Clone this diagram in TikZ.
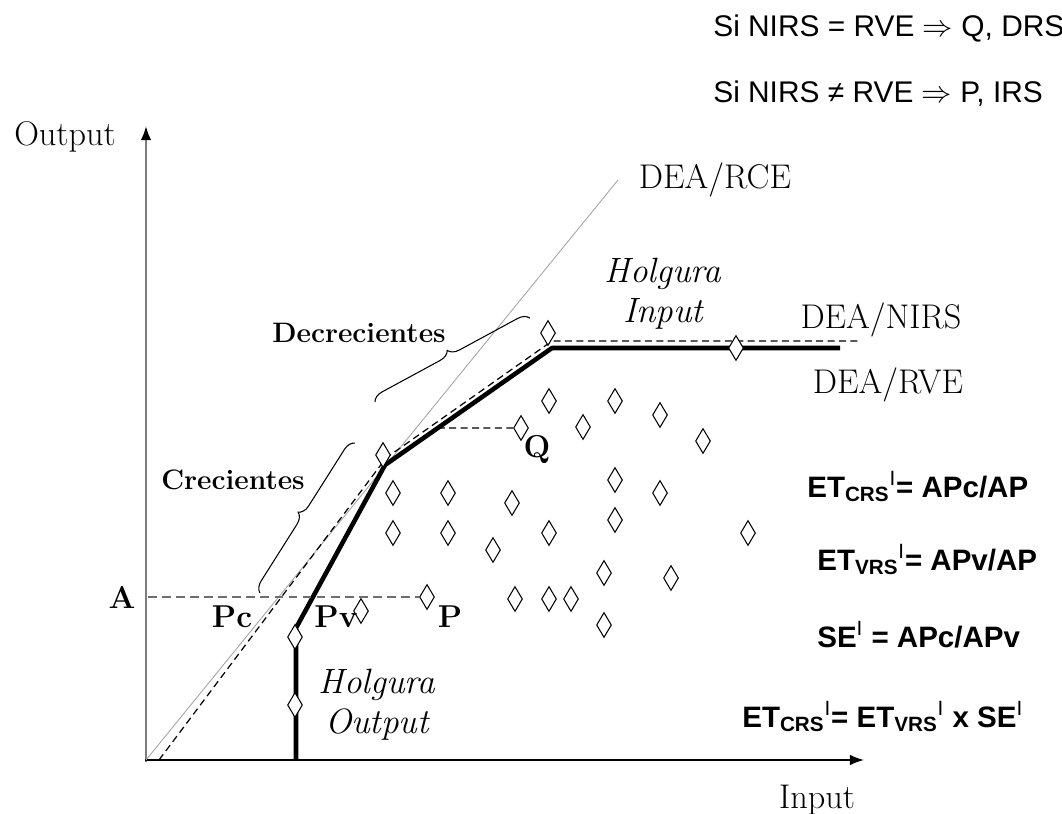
\documentclass[tikz,border=0pt]{standalone}
\usepackage{fontspec}
\newfontfamily\arialsf{Liberation Sans}
\usepackage{xcolor}
\definecolor{axisgray}{RGB}{125,125,125}
\definecolor{rcegray}{RGB}{165,165,165}
\definecolor{guidegray}{RGB}{110,110,110}
\usepackage{tikz}
\usetikzlibrary{arrows.meta,calc,backgrounds,shapes.geometric,decorations.pathreplacing}
\tikzset{
  %% DMUs: open diamonds
  dmu/.style={diamond, draw, fill=white, line width=0.6pt,
              inner sep=0pt, minimum width=0.3cm, minimum height=0.5cm},
  %% text
  lbl/.style={font=\fontsize{19.5}{22}\selectfont},
  zonelbl/.style={font=\fontsize{16}{19}\selectfont\bfseries},
  ptlbl/.style={font=\fontsize{18}{21}\selectfont\bfseries},
  slack/.style={font=\fontsize{20}{23}\selectfont\itshape, align=center},
  ruletxt/.style={font=\fontsize{17}{20}\selectfont\arialsf, anchor=base west, inner sep=0pt},
  ratio/.style={font=\fontsize{16.8}{20}\selectfont\arialsf\bfseries, anchor=base west, inner sep=0pt},
  %% lines
  vrs/.style={line width=2.6pt, line join=round},
  nirs/.style={line width=0.7pt, dash pattern=on 4pt off 2.5pt},
  rce/.style={draw=rcegray, line width=0.5pt},
  guide/.style={draw=guidegray, line width=0.7pt, dash pattern=on 5pt off 3pt},
  zone/.style={decorate, decoration={brace, amplitude=0.22cm}, line width=0.6pt},
}

\begin{document}
\begin{tikzpicture}[x=0.02cm, y=-0.02cm]
\useasboundingbox (0,0) rectangle (1062,814);

% axes and frontier corners
\coordinate (o) at (146,760);
\coordinate (ybot) at (146,762);
\coordinate (ytop) at (146,126);
\coordinate (xbeg) at (145,760);
\coordinate (xend) at (864,760);
\coordinate (rcetop) at (618,180);
\coordinate (n0) at (159,760);
\coordinate (n1) at (386,458);
\coordinate (n2) at (552,341);
\coordinate (n3) at (858,341);
\coordinate (v0) at (296,760);
\coordinate (v1) at (296,628);
\coordinate (v2) at (385,465);
\coordinate (v3) at (552,348);
\coordinate (v4) at (840,348);
\coordinate (a) at (148,597);

% DMUs on the frontiers
\node[dmu] (dv0) at (295,705) {};
\node[dmu] (dv1) at (295,637) {};
\node[dmu] (dk1) at (383,455) {};
\node[dmu] (dk2) at (548,333) {};
\node[dmu] (dh) at (736,348) {};
% named inefficient DMUs
\node[dmu] (dp) at (427,597) {};
\node[dmu] (dpv) at (361,611) {};
\node[dmu] (dq) at (521,428) {};
% the rest
\foreach \px/\py [count=\i] in {393/493,448/493,393/533,448/533,549/401,615/401,
    660/415,583/427,703/441,615/480,660/493,512/503,615/520,549/533,748/533,
    493/550,604/573,671/578,515/599,549/599,571/599,604/625}
  \node[dmu] (d\i) at (\px,\py) {};

\begin{scope}[on background layer]
\draw[axisgray, line width=1.2pt, -{Latex[length=8pt,width=6pt,color=black]}] (ybot) -- (ytop);
\draw[line width=0.9pt, -{Latex[length=8pt,width=6pt]}] (xbeg) -- (xend);
\draw[rce] (o) -- (rcetop);
\draw[nirs] (n0) -- (n1) -- (n2) -- (n3);
\draw[vrs] (v0) -- (v1) -- (v2) -- (v3) -- (v4);
\draw[guide] (a) -- (dp.west);
\draw[nirs] ($(v2)!0.316!(v3)$) -- (dq.west);
\end{scope}

% returns to scale zones
\draw[zone] (260,593) -- (355,443);
\draw[zone] (375,402) -- (530,318);

% axis and frontier labels
\node[lbl] (outlbl) at (65,137) {Output};
\node[lbl] (inlbl) at (817,800) {Input};
\node[lbl] (rcelbl) at (715,180) {DEA/RCE};
\node[lbl] (nirslbl) at (881,320) {DEA/NIRS};
\node[lbl] (rvelbl) at (888,385) {DEA/RVE};
\node[slack] (hin) at (663,294) {Holgura\\Input};
\node[slack] (hout) at (377,705) {Holgura\\Output};
\node[zonelbl] (declbl) at (359,333) {Decrecientes};
\node[zonelbl] (crelbl) at (233,480) {Crecientes};
\node[ptlbl] (albl) at (122,597) {A};
\node[ptlbl] (pclbl) at (232,617) {Pc};
\node[ptlbl] (pvlbl) at (336,617) {Pv};
\node[ptlbl] (plbl) at (450,617) {P};
\node[ptlbl] (qlbl) at (537,450) {Q};

% rules and ratios
\node[ruletxt] (rule1) at (713,37) {Si NIRS = RVE $\Rightarrow$ Q, DRS};
\node[ruletxt] (rule2) at (713,103) {Si NIRS ≠ RVE $\Rightarrow$ P, IRS};
\node[ratio] (r1) at (807,497) {ET\textsubscript{CRS}\textsuperscript{\mdseries I}= APc/AP};
\node[ratio] (r2) at (817,570) {ET\textsubscript{VRS}\textsuperscript{\mdseries I}= APv/AP};
\node[ratio] (r3) at (817,647) {SE\textsuperscript{\mdseries I} = APc/APv};
\node[ratio] (r4) at (742,727) {ET\textsubscript{CRS}\textsuperscript{\mdseries I}= ET\textsubscript{VRS}\textsuperscript{\mdseries I} x SE\textsuperscript{\mdseries I}};
\end{tikzpicture}
\end{document}
